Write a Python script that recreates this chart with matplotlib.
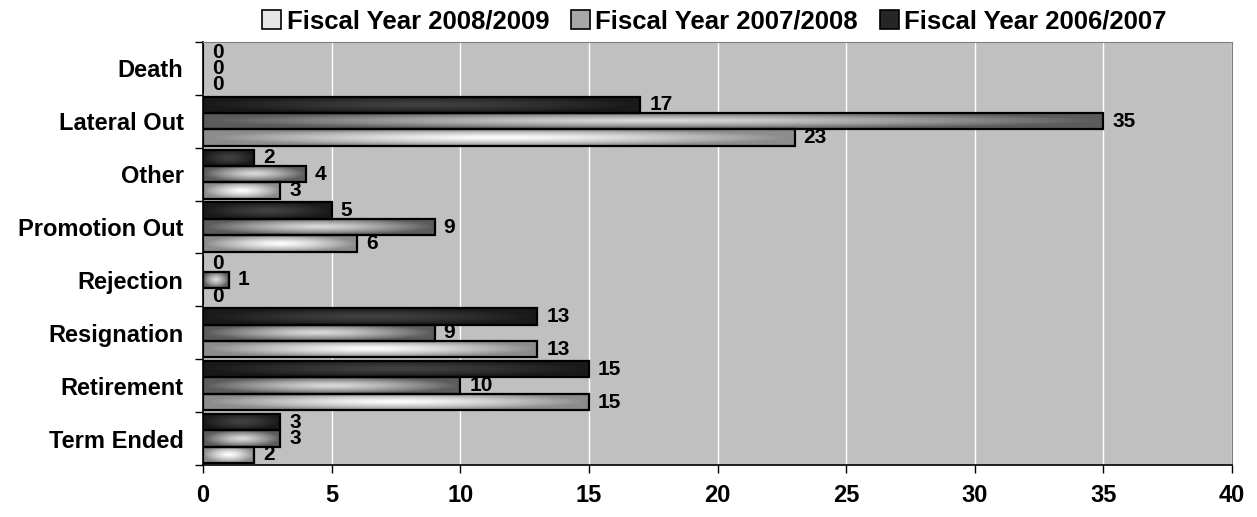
import numpy as np
import matplotlib
matplotlib.use("Agg")
import matplotlib.pyplot as plt
from matplotlib.patches import Patch

plt.rcParams['font.family'] = ['Liberation Sans', 'DejaVu Sans']
plt.rcParams['font.weight'] = 'bold'

# data
categories = ["Death", "Lateral Out", "Other", "Promotion Out",
              "Rejection", "Resignation", "Retirement", "Term Ended"]
fy_0607 = [0, 17, 2, 5, 0, 13, 15, 3]
fy_0708 = [0, 35, 4, 9, 1, 9, 10, 3]
fy_0809 = [0, 23, 3, 6, 0, 13, 15, 2]
series_names = ["Fiscal Year 2006/2007", "Fiscal Year 2007/2008", "Fiscal Year 2008/2009"]

# (center gray, edge gray) for the shaded bars
shades = [(0.26, 0.10), (0.86, 0.36), (1.0, 0.55)]


def gradient(center, edge, n=64):
    u = np.linspace(-1, 1, n)
    xx, yy = np.meshgrid(u, u)
    d = np.clip(np.sqrt(xx ** 2 + yy ** 2), 0, 1) ** 1.3
    g = center + (edge - center) * d
    return np.dstack([g, g, g])


fig = plt.figure(figsize=(12.57, 5.17), dpi=100)
ax = fig.add_axes([0.1615, 0.1006, 0.8187, 0.8182])
ax.set_facecolor("#c0c0c0")

h = 0.31
offsets = [-h, 0, h]
y = np.arange(len(categories))
for vals, off, (c, e) in zip([fy_0607, fy_0708, fy_0809], offsets, shades):
    bars = ax.barh(y + off, vals, height=h, facecolor="none",
                   edgecolor="black", linewidth=1.6, zorder=4)
    img = gradient(c, e)
    for b, v in zip(bars, vals):
        if v > 0:
            im = ax.imshow(img, extent=(0, v, b.get_y() + h, b.get_y()),
                           aspect="auto", zorder=3, interpolation="bilinear")
            im.set_clip_path(b)
        ax.text(v + 0.35, b.get_y() + h / 2, str(v), va="center", ha="left",
                fontsize=15, fontweight="bold", zorder=5)

ax.set_xlim(0, 40)
ax.set_ylim(len(categories) - 0.5, -0.5)
ax.set_xticks(np.arange(0, 41, 5))
ax.set_xticklabels([str(t) for t in range(0, 41, 5)], fontsize=17, fontweight="bold")
ax.tick_params(axis="x", length=6, width=1, pad=8, direction="out")
ax.set_yticks(y)
ax.set_yticklabels(categories, fontsize=17, fontweight="bold")
ax.set_yticks(np.arange(-0.5, len(categories), 1), minor=True)
ax.tick_params(axis="y", which="major", length=0, pad=14)
ax.tick_params(axis="y", which="minor", length=6, width=1)
ax.grid(axis="x", color="white", linewidth=1, zorder=1)
ax.set_axisbelow(True)
for s in ["top", "right"]:
    ax.spines[s].set_color("#808080")
for s in ["left", "bottom"]:
    ax.spines[s].set_color("black")
    ax.spines[s].set_linewidth(1.2)

legend_colors = ["#e6e6e6", "#a8a8a8", "#262626"]
handles = [Patch(facecolor=col, edgecolor="black", linewidth=1.2)
           for col in legend_colors]
ax.legend(handles, series_names[::-1], loc="lower center",
          bbox_to_anchor=(0.497, 1.02), ncol=3, frameon=False,
          prop={"size": 18.5, "weight": "bold"}, handlelength=0.75, handleheight=0.75,
          handletextpad=0.2, columnspacing=0.85, borderaxespad=0, borderpad=0.0)

fig.savefig("out.png", dpi=100)
